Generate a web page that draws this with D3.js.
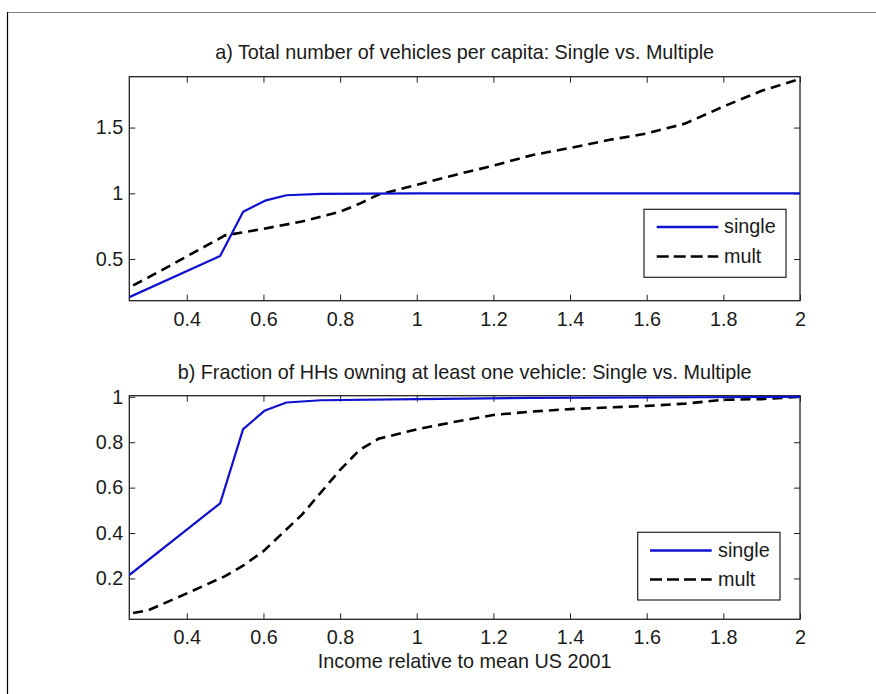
<!DOCTYPE html>
<html>
<head>
<meta charset="utf-8">
<script src="https://cdn.jsdelivr.net/npm/d3@7"></script>
<style>
  html, body { margin: 0; padding: 0; background: #fff; }
  svg text { font-family: "Liberation Sans", Arial, sans-serif; fill: #1a1a1a; }
</style>
</head>
<body>
<svg id="chart" width="876" height="694"></svg>
<script>
// x values and series
const singleX = [0.25, 0.487, 0.547, 0.604, 0.66, 0.75, 1.0, 1.3, 2.0];
const singleTotal = [0.21, 0.523, 0.86, 0.944, 0.985, 0.995, 1.0, 1.0, 1.0];
const singleOwn = [0.215, 0.531, 0.858, 0.94, 0.975, 0.985, 0.99, 0.995, 1.0];

const multX = [0.26, 0.3, 0.4, 0.5, 0.55, 0.6, 0.7, 0.8, 0.85, 0.9, 1.0, 1.1, 1.2, 1.3, 1.4, 1.5, 1.6, 1.7, 1.8, 1.9, 2.0];
const multTotal = [0.30, 0.36, 0.52, 0.68, 0.705, 0.73, 0.785, 0.86, 0.92, 0.99, 1.065, 1.14, 1.21, 1.29, 1.345, 1.405, 1.455, 1.53, 1.66, 1.78, 1.87];
const multOwn = [0.048, 0.06, 0.134, 0.21, 0.26, 0.32, 0.48, 0.678, 0.765, 0.815, 0.857, 0.89, 0.92, 0.935, 0.946, 0.953, 0.96, 0.97, 0.987, 0.99, 1.0];

const xTicks = [0.4, 0.6, 0.8, 1, 1.2, 1.4, 1.6, 1.8, 2];
const yTicksTop = [0.5, 1, 1.5];
const yTicksBottom = [0.2, 0.4, 0.6, 0.8, 1];

const seriesNames = ["single", "mult"];
const titles = [
  "a) Total number of vehicles per capita: Single vs. Multiple",
  "b) Fraction of HHs owning at least one vehicle: Single vs. Multiple"
];
const xLabel = "Income relative to mean US 2001";

const svg = d3.select("#chart");
const fontSize = 19.8;
const blue = "#1010d0";

// figure frame (top and left edges only)
svg.append("line").attr("x1", 7).attr("x2", 876).attr("y1", 12.5).attr("y2", 12.5)
  .attr("stroke", "#808080").attr("stroke-width", 1.2);
svg.append("line").attr("x1", 7.5).attr("x2", 7.5).attr("y1", 12).attr("y2", 694)
  .attr("stroke", "#000").attr("stroke-width", 1.2);

const left = 129.3, right = 800;

function panel(cfg) {
  const x = d3.scaleLinear().domain([0.25, 2]).range([left, right]);
  const y = d3.scaleLinear().domain(cfg.yDomain).range([cfg.bottom, cfg.top]);
  const g = svg.append("g");
  const fmt = d3.format("~g");

  g.append("g").attr("transform", `translate(0,${cfg.bottom})`)
    .call(d3.axisBottom(x).tickValues(xTicks).tickFormat(fmt)
      .tickSizeInner(-6).tickSizeOuter(0).tickPadding(11));
  g.append("g").attr("transform", `translate(0,${cfg.top})`)
    .call(d3.axisTop(x).tickValues(xTicks).tickFormat("")
      .tickSizeInner(-6).tickSizeOuter(0));
  g.append("g").attr("transform", `translate(${left},0)`)
    .call(d3.axisLeft(y).tickValues(cfg.yTicks).tickFormat(fmt)
      .tickSizeInner(-6).tickSizeOuter(0).tickPadding(6));
  g.append("g").attr("transform", `translate(${right},0)`)
    .call(d3.axisRight(y).tickValues(cfg.yTicks).tickFormat("")
      .tickSizeInner(-6).tickSizeOuter(0));

  g.selectAll(".domain").remove();
  g.selectAll(".tick line").attr("stroke", "#222");
  g.selectAll(".tick text").style("font-size", fontSize + "px").attr("fill", "#1a1a1a");

  g.append("rect").attr("x", left).attr("y", cfg.top)
    .attr("width", right - left).attr("height", cfg.bottom - cfg.top)
    .attr("fill", "none").attr("stroke", "#222").attr("stroke-width", 1.3);

  g.append("text").attr("x", (left + right) / 2).attr("y", cfg.titleY)
    .attr("text-anchor", "middle").style("font-size", fontSize + "px")
    .text(cfg.title);

  const clipId = "clip" + cfg.id;
  svg.append("clipPath").attr("id", clipId).append("rect")
    .attr("x", left).attr("y", cfg.top - 2).attr("width", right - left + 1)
    .attr("height", cfg.bottom - cfg.top + 4);

  const line = d3.line().x(d => x(d[0])).y(d => y(d[1]));
  const plot = g.append("g").attr("clip-path", `url(#${clipId})`);
  plot.append("path").datum(d3.zip(multX, cfg.mult))
    .attr("d", line).attr("fill", "none").attr("stroke", "#000")
    .attr("stroke-width", 2.6).attr("stroke-dasharray", "10,6");
  plot.append("path").datum(d3.zip(singleX, cfg.single))
    .attr("d", line).attr("fill", "none").attr("stroke", blue)
    .attr("stroke-width", 2.2).attr("stroke-linejoin", "round");

  // legend
  const L = cfg.legend;
  const lg = g.append("g");
  lg.append("rect").attr("x", L.x0).attr("y", L.y0)
    .attr("width", L.x1 - L.x0).attr("height", L.y1 - L.y0)
    .attr("fill", "#fff").attr("stroke", "#222").attr("stroke-width", 1.2);
  const styles = [
    { stroke: blue, dash: null, w: 2.4 },
    { stroke: "#000", dash: "12,5", w: 2.6 }
  ];
  seriesNames.forEach((name, i) => {
    const ly = L.rows[i];
    lg.append("line").attr("x1", L.lx0).attr("x2", L.lx1).attr("y1", ly).attr("y2", ly)
      .attr("stroke", styles[i].stroke).attr("stroke-width", styles[i].w)
      .attr("stroke-dasharray", styles[i].dash);
    lg.append("text").attr("x", L.tx).attr("y", ly).attr("dy", "0.32em")
      .style("font-size", fontSize + "px").text(name);
  });
}

panel({
  id: "a", top: 76.7, bottom: 300.7, yDomain: [0.183, 1.887], yTicks: yTicksTop,
  title: titles[0], titleY: 59.3, single: singleTotal, mult: multTotal,
  legend: { x0: 644, x1: 786, y0: 209.3, y1: 277.3, lx0: 656.7, lx1: 718.3, tx: 724, rows: [227, 256.5] }
});
panel({
  id: "b", top: 395.7, bottom: 619.3, yDomain: [0.02, 1.005], yTicks: yTicksBottom,
  title: titles[1], titleY: 379, single: singleOwn, mult: multOwn,
  legend: { x0: 637.7, x1: 780, y0: 532.3, y1: 600, lx0: 650, lx1: 711.7, tx: 718, rows: [550.5, 579.5] }
});

svg.append("text").attr("x", (left + right) / 2).attr("y", 668)
  .attr("text-anchor", "middle").style("font-size", fontSize + "px")
  .text(xLabel);
</script>
</body>
</html>
